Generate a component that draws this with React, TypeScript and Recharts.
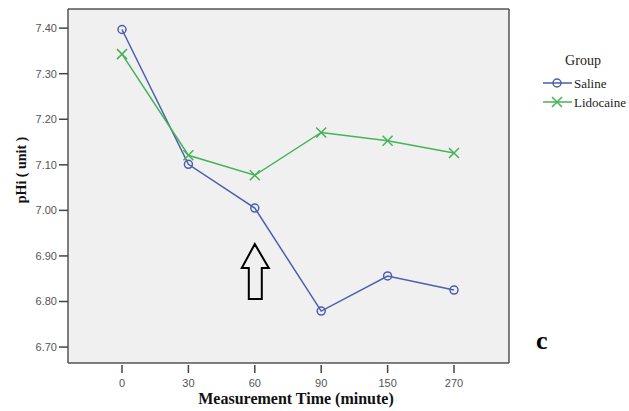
import React from "react";
import {
  LineChart,
  Line,
  XAxis,
  YAxis,
  CartesianGrid,
  ReferenceDot,
} from "recharts";

const categories = ["0", "30", "60", "90", "150", "270"];
const salineValues = [7.397, 7.101, 7.005, 6.779, 6.856, 6.825];
const lidocaineValues = [7.343, 7.121, 7.077, 7.171, 7.153, 7.126];
const yTicks = [6.7, 6.8, 6.9, 7.0, 7.1, 7.2, 7.3, 7.4];
const seriesNames = ["Saline", "Lidocaine"];
const arrowAt = { time: "60", value: 6.869 };

const data = categories.map((t, i) => ({
  time: t,
  Saline: salineValues[i],
  Lidocaine: lidocaineValues[i],
}));

const BLUE = "#4a5fb0";
const GREEN = "#45b357";
const colors: Record<string, string> = { Saline: BLUE, Lidocaine: GREEN };
const SERIF = "'Liberation Serif', 'Times New Roman', serif";
const SANS = "'Liberation Sans', Arial, sans-serif";

const CircleDot = (props: any) => {
  const { cx, cy } = props;
  if (cx == null || cy == null) return null;
  return <circle cx={cx} cy={cy} r={4} fill="none" stroke={BLUE} strokeWidth={1.5} />;
};

const CrossDot = (props: any) => {
  const { cx, cy } = props;
  if (cx == null || cy == null) return null;
  const s = 5;
  return (
    <path
      d={`M${cx - s},${cy - s}L${cx + s},${cy + s}M${cx - s},${cy + s}L${cx + s},${cy - s}`}
      stroke={GREEN}
      strokeWidth={1.5}
      fill="none"
    />
  );
};

const XTick = (props: any) => {
  const { x, y, payload } = props;
  return (
    <g>
      <line x1={x} x2={x} y1={y + 2} y2={y + 10} stroke="#444" strokeWidth={1.5} />
      <text x={x} y={y + 24} textAnchor="middle" fontFamily={SANS} fontSize={11} fill="#555" stroke="none">
        {payload.value}
      </text>
    </g>
  );
};

const ArrowShape = (props: any) => {
  const { cx, cy } = props;
  if (cx == null || cy == null) return null;
  const d = `M${cx},${cy - 26} L${cx + 14},${cy - 2} L${cx + 7},${cy - 2} L${cx + 7},${cy + 29} L${cx - 6},${cy + 29} L${cx - 6},${cy - 2} L${cx - 13},${cy - 2} Z`;
  return <path d={d} fill="none" stroke="#000" strokeWidth={2} strokeLinejoin="miter" />;
};

const LegendBox = () => (
  <svg width={100} height={75} style={{ position: "absolute", left: 538, top: 45 }}>
    <text x={45} y={20} textAnchor="middle" fontFamily={SERIF} fontSize={14} fill="#222">
      Group
    </text>
    {seriesNames.map((name, i) => {
      const y = 38 + i * 19;
      const color = colors[name];
      return (
        <g key={name}>
          <line x1={5} x2={34} y1={y} y2={y} stroke={color} strokeWidth={1.5} />
          {i === 0 ? (
            <circle cx={19} cy={y} r={4} fill="none" stroke={color} strokeWidth={1.5} />
          ) : (
            <path d={`M14,${y - 5}L24,${y + 5}M14,${y + 5}L24,${y - 5}`} stroke={color} strokeWidth={1.5} />
          )}
          <text x={36} y={y + 5} fontFamily={SERIF} fontSize={13} fill="#222">
            {name}
          </text>
        </g>
      );
    })}
  </svg>
);

export default function App() {
  return (
    <div style={{ position: "fixed", left: 0, top: 0, width: 629, height: 411, background: "#fff" }}>
      <LineChart
        width={629}
        height={411}
        data={data}
        margin={{ top: 9, right: 120, bottom: 0, left: 28 }}
      >
        <CartesianGrid
          fill="#f0f0f0"
          stroke="#555"
          strokeWidth={1.5}
          horizontalCoordinatesGenerator={(p: any) => [p.offset.top, p.offset.top + p.offset.height]}
          verticalCoordinatesGenerator={(p: any) => [p.offset.left, p.offset.left + p.offset.width]}
        />
        <XAxis
          dataKey="time"
          type="category"
          height={48}
          padding={{ left: 54, right: 55 }}
          axisLine={false}
          tickLine={false}
          tickSize={0}
          tickMargin={0}
          tick={<XTick />}
          interval={0}
          label={{
            content: () => (
              <text x={296} y={404} textAnchor="middle" fontFamily={SERIF} fontSize={16} fontWeight="bold" fill="#111">
                Measurement Time (minute)
              </text>
            ),
          }}
        />
        <YAxis
          type="number"
          domain={[6.665, 7.442]}
          ticks={yTicks}
          width={40}
          axisLine={false}
          tickSize={9}
          tickMargin={2}
          tickLine={{ stroke: "#444", strokeWidth: 1.5 }}
          tick={{ fontFamily: SANS, fontSize: 11, fill: "#555" }}
          tickFormatter={(v: number) => v.toFixed(2)}
          allowDataOverflow
          label={{
            content: () => (
              <text
                x={26}
                y={170}
                transform="rotate(-90 26 170)"
                textAnchor="middle"
                fontFamily={SERIF}
                fontSize={14}
                fontWeight="bold"
                fill="#111"
              >
                pHi ( unit )
              </text>
            ),
          }}
        />
        <Line
          type="linear"
          dataKey="Saline"
          stroke={BLUE}
          strokeWidth={1.5}
          dot={<CircleDot />}
          activeDot={false}
          isAnimationActive={false}
        />
        <Line
          type="linear"
          dataKey="Lidocaine"
          stroke={GREEN}
          strokeWidth={1.5}
          dot={<CrossDot />}
          activeDot={false}
          isAnimationActive={false}
        />
        <ReferenceDot x={arrowAt.time} y={arrowAt.value} shape={<ArrowShape />} ifOverflow="visible" />
      </LineChart>
      <LegendBox />
      <div
        style={{
          position: "absolute",
          left: 536,
          top: 326,
          fontFamily: SERIF,
          fontWeight: "bold",
          fontSize: 26,
          color: "#000",
          lineHeight: "30px",
        }}
      >
        c
      </div>
    </div>
  );
}
